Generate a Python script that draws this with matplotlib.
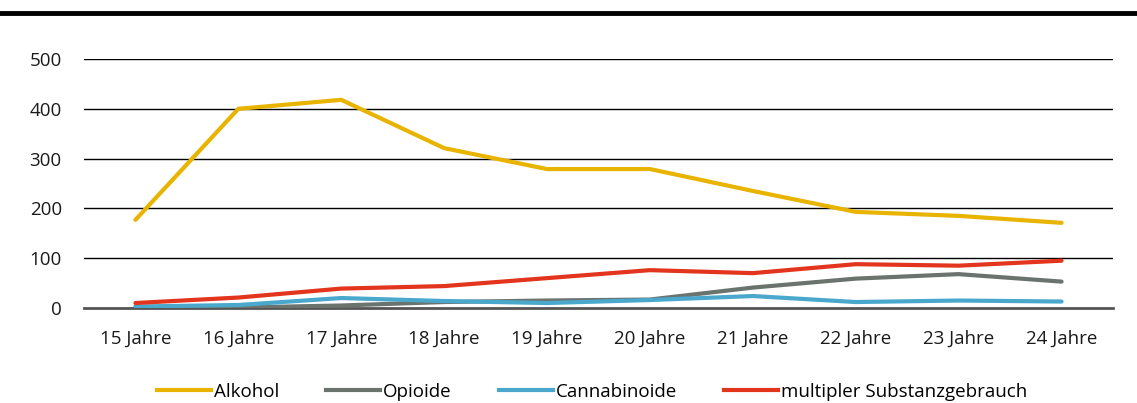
import numpy as np
import matplotlib
matplotlib.use("Agg")
from matplotlib import pyplot as plt
from matplotlib.lines import Line2D

categories = ["15 Jahre", "16 Jahre", "17 Jahre", "18 Jahre", "19 Jahre",
              "20 Jahre", "21 Jahre", "22 Jahre", "23 Jahre", "24 Jahre"]
alkohol = [177, 400, 418, 321, 279, 279, 235, 193, 185, 171]
opioide = [1, 1, 5, 12, 15, 17, 41, 59, 68, 53]
cannabinoide = [3, 6, 20, 14, 10, 16, 24, 12, 15, 13]
multipler = [10, 21, 39, 44, 60, 76, 70, 88, 85, 95]
series_names = ["Alkohol", "Opioide", "Cannabinoide", "multipler Substanzgebrauch"]
y_ticks = [0, 100, 200, 300, 400, 500]

colors = ["#E8B400", "#6B736F", "#4AA8CC", "#E3341D"]

plt.rcParams['font.family'] = ['Open Sans', 'DejaVu Sans']

fig = plt.figure(figsize=(11.37, 4.03), dpi=100)
ax = fig.add_axes([84 / 1137, (403 - 308) / 403, (1113 - 84) / 1137, (308 - 59) / 403])

x = np.arange(len(categories))
# draw order: grey, blue, red, yellow on top
order = [1, 2, 3, 0]
data = [alkohol, opioide, cannabinoide, multipler]
for i in order:
    ax.plot(x, data[i], color=colors[i], linewidth=3, solid_capstyle='round', zorder=3 + i)

ax.set_xlim(-0.5, len(categories) - 0.5)
ax.set_ylim(0, 500)
ax.set_yticks(y_ticks)
ax.set_xticks(x)
ax.set_xticklabels(categories)
ax.tick_params(axis='both', length=0, labelsize=13.5, colors='#1a1a1a')
ax.tick_params(axis='x', pad=16)
ax.tick_params(axis='y', pad=16)
for t in y_ticks[1:]:
    ax.axhline(t, color='black', linewidth=1, zorder=1)
for s in ['top', 'right', 'left']:
    ax.spines[s].set_visible(False)
ax.spines['bottom'].set_color('#555555')
ax.spines['bottom'].set_linewidth(2)
ax.set_facecolor('none')

# top black rule
fig.add_artist(Line2D([0, 1], [1 - 13 / 403, 1 - 13 / 403], color='black', linewidth=3.5,
                      transform=fig.transFigure))

handles = [Line2D([], [], color=colors[i], linewidth=3) for i in range(4)]
fig.legend(handles, series_names, loc='center', bbox_to_anchor=(592 / 1137, 1 - 392 / 403),
           ncol=4, frameon=False, fontsize=13.5, handlelength=2.9, handletextpad=0.15,
           columnspacing=2.5)

fig.savefig("out.png", dpi=100)
